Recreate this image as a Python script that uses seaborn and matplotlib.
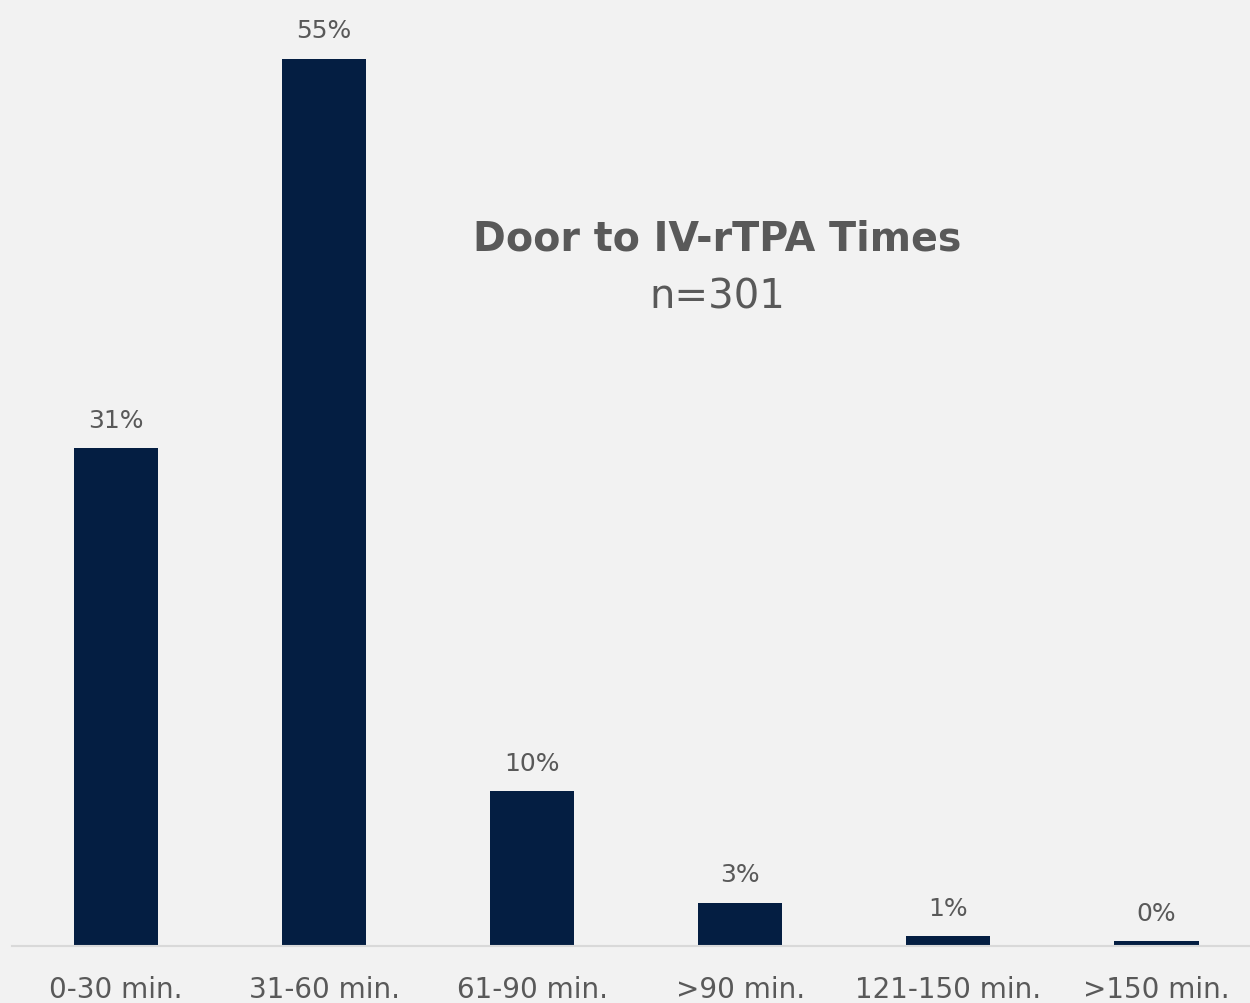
import matplotlib
matplotlib.use("Agg")
import matplotlib.pyplot as plt
import seaborn as sns
import pandas as pd

categories = ["0-30 min.", "31-60 min.", "61-90 min.", ">90 min.", "121-150 min.", ">150 min."]
percent = [30.9, 55.1, 9.6, 2.7, 0.6, 0.3]
labels = ["31%", "55%", "10%", "3%", "1%", "0%"]

df = pd.DataFrame({"time": categories, "pct": percent})

sns.set_style("white")
plt.rcParams["font.family"] = ["DejaVu Sans"]

bg = "#F2F2F2"
bar_color = "#041E42"
text_color = "#595959"

fig = plt.figure(figsize=(12.5, 10.04), dpi=100, facecolor=bg)
ax = fig.add_axes([12 / 1250, 57 / 1004, 1 - 12 / 1250, 1 - 57 / 1004])
ax.set_facecolor(bg)

sns.barplot(data=df, x="time", y="pct", color=bar_color, width=0.405, ax=ax,
            saturation=1, linewidth=0, edgecolor=bar_color)

for i, (v, lab) in enumerate(zip(percent, labels)):
    ax.annotate(lab, (i, v), xytext=(0, 12), textcoords="offset points",
                ha="center", va="bottom", fontsize=18, color=text_color)

ax.set_xlim(-0.5, 5.45)
ax.set_ylim(0, 58.8)
ax.set_xlabel("")
ax.set_ylabel("")
ax.set_yticks([])
ax.tick_params(axis="x", length=0, labelsize=20, labelcolor=text_color, pad=21)
for s in ["top", "right", "left"]:
    ax.spines[s].set_visible(False)
ax.spines["bottom"].set_color("#D9D9D9")
ax.spines["bottom"].set_linewidth(1.5)

fig.text(0.574, 0.761, "Door to IV-rTPA Times", ha="center", va="center",
         fontsize=28.5, fontweight="bold", color=text_color)
fig.text(0.574, 0.704, "n=301", ha="center", va="center",
         fontsize=29, color=text_color)

fig.savefig("out.png", dpi=100, facecolor=bg)
